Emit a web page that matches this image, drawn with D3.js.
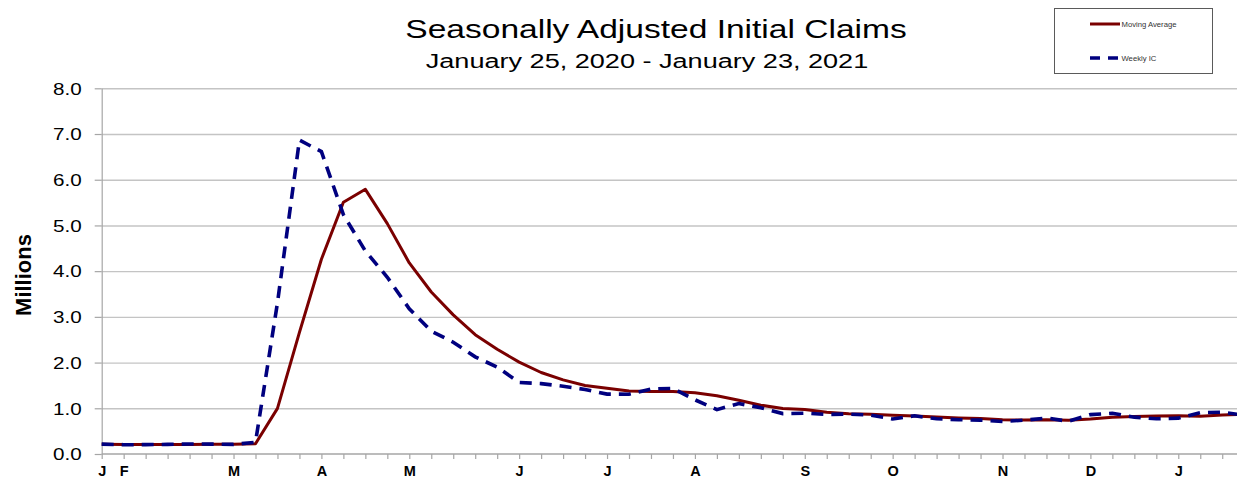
<!DOCTYPE html>
<html>
<head>
<meta charset="utf-8">
<script src="https://cdn.jsdelivr.net/npm/d3@7"></script>
<style>
  body { margin: 0; background: #fff; }
  svg { display: block; font-family: "Liberation Sans", Arial, sans-serif; }
</style>
</head>
<body>
<svg id="chart" width="1237" height="478"></svg>
<script>

// week ending dates, Jan 25 2020 .. Jan 23 2021
var weeks = [
  "2020-01-25","2020-02-01","2020-02-08","2020-02-15","2020-02-22","2020-02-29",
  "2020-03-07","2020-03-14","2020-03-21","2020-03-28","2020-04-04","2020-04-11",
  "2020-04-18","2020-04-25","2020-05-02","2020-05-09","2020-05-16","2020-05-23",
  "2020-05-30","2020-06-06","2020-06-13","2020-06-20","2020-06-27","2020-07-04",
  "2020-07-11","2020-07-18","2020-07-25","2020-08-01","2020-08-08","2020-08-15",
  "2020-08-22","2020-08-29","2020-09-05","2020-09-12","2020-09-19","2020-09-26",
  "2020-10-03","2020-10-10","2020-10-17","2020-10-24","2020-10-31","2020-11-07",
  "2020-11-14","2020-11-21","2020-11-28","2020-12-05","2020-12-12","2020-12-19",
  "2020-12-26","2021-01-02","2021-01-09","2021-01-16","2021-01-23"
]

// millions
var weeklyIC = [
  0.216, 0.203, 0.205, 0.211, 0.219, 0.217,
  0.211, 0.256, 3.307, 6.867, 6.615, 5.237,
  4.442, 3.867, 3.176, 2.687, 2.446, 2.126,
  1.901, 1.566, 1.540, 1.482, 1.413, 1.310,
  1.308, 1.422, 1.435, 1.186, 0.971, 1.104,
  1.011, 0.884, 0.893, 0.866, 0.873, 0.849,
  0.767, 0.835, 0.770, 0.750, 0.740, 0.711,
  0.740, 0.787, 0.716, 0.862, 0.892, 0.806,
  0.770, 0.784, 0.904, 0.914, 0.847
]

var movingAvg = [
  0.212, 0.210, 0.209, 0.209, 0.210, 0.213,
  0.215, 0.226, 0.998, 2.660, 4.261, 5.507,
  5.790, 5.040, 4.180, 3.544, 3.044, 2.609,
  2.290, 2.010, 1.783, 1.622, 1.500, 1.436,
  1.378, 1.368, 1.369, 1.338, 1.274, 1.174,
  1.068, 0.993, 0.973, 0.914, 0.879, 0.870,
  0.848, 0.830, 0.810, 0.790, 0.775, 0.749,
  0.744, 0.751, 0.741, 0.766, 0.802, 0.819,
  0.833, 0.836, 0.827, 0.852, 0.868
]

var yTicks = [0, 1, 2, 3, 4, 5, 6, 7, 8]

// month letters under the first week of each month
var monthLabelDates = ["2020-01-25","2020-02-01","2020-03-07","2020-04-04","2020-05-02",
  "2020-06-06","2020-07-04","2020-08-01","2020-09-05","2020-10-03","2020-11-07",
  "2020-12-05","2021-01-02"]
var monthLabels = ["J","F","M","A","M","J","J","A","S","O","N","D","J"]

var seriesNames = ["Moving Average", "Weekly IC"]


var svg = d3.select('#chart')
var parse = d3.timeParse('%Y-%m-%d')
var dates = weeks.map(parse)

// stretched-look text, the original picture is wider than tall
var SX = 1.29

var plotLeft = 101.7, plotBottom = 454, plotTop = 88.3
var x = d3.scaleTime()
    .domain([dates[0], dates[dates.length - 1]])
    .range([plotLeft, 1244.2])
var y = d3.scaleLinear()
    .domain([0, 8])
    .range([plotBottom, plotTop])

// gridlines
svg.append('g')
    .attr('transform', 'translate(' + plotLeft + ',0)')
    .call(d3.axisLeft(y).tickValues(yTicks.slice(1)).tickSize(-(1237 - plotLeft)).tickFormat(''))
    .call(function(g){
        g.select('.domain').remove()
        g.selectAll('line').attr('stroke', '#c4c4c4').attr('stroke-width', 1.4)
    })

// y axis
svg.append('g')
    .attr('transform', 'translate(' + plotLeft + ',0)')
    .call(d3.axisLeft(y).tickValues(yTicks).tickSize(7).tickSizeOuter(0).tickFormat(d3.format('.1f')))
    .call(function(g){
        g.select('.domain').attr('stroke', '#a6a6a6').attr('stroke-width', 1.2)
        g.selectAll('line').attr('stroke', '#a6a6a6').attr('stroke-width', 1.2)
        g.selectAll('text')
            .attr('x', null).attr('dy', null)
            .attr('transform', 'translate(-20,5.8) scale(' + SX + ',1)')
            .attr('font-size', 16)
            .attr('font-family', '"Liberation Sans", Arial, sans-serif')
            .attr('fill', '#000')
    })

// x axis
var labelMap = {}
monthLabelDates.forEach(function(d, i){ labelMap[d] = monthLabels[i] })
var fmt = d3.timeFormat('%Y-%m-%d')

svg.append('g')
    .attr('transform', 'translate(0,' + plotBottom + ')')
    .call(d3.axisBottom(x).tickValues(dates).tickSize(5).tickSizeOuter(0)
        .tickFormat(function(d){ return labelMap[fmt(d)] || '' }))
    .call(function(g){
        g.select('.domain').attr('stroke', '#a6a6a6').attr('stroke-width', 1.6)
            .attr('d', 'M' + plotLeft + ',0H1237')
        g.selectAll('line').attr('stroke', '#a6a6a6').attr('stroke-width', 1.2)
        g.selectAll('text')
            .attr('y', 22).attr('dy', null)
            .attr('font-size', 14.5)
            .attr('font-weight', 'bold')
            .attr('font-family', '"Liberation Sans", Arial, sans-serif')
            .attr('fill', '#000')
    })

// lines
var line = function(vals){
    return d3.line()
        .x(function(d, i){ return x(dates[i]) })
        .y(function(d){ return y(d) })(vals)
}

svg.append('path')
    .attr('d', line(movingAvg))
    .attr('fill', 'none')
    .attr('stroke', '#7a0000')
    .attr('stroke-width', 3)
    .attr('stroke-linejoin', 'round')

svg.append('path')
    .attr('d', line(weeklyIC))
    .attr('fill', 'none')
    .attr('stroke', '#00007f')
    .attr('stroke-width', 3.6)
    .attr('stroke-dasharray', '12,8')

// titles
function stretchedText(txt, cx, cy, size, weight, anchor){
    return svg.append('text')
        .text(txt)
        .attr('transform', 'translate(' + cx + ',' + cy + ') scale(' + SX + ',1)')
        .attr('text-anchor', anchor || 'middle')
        .attr('font-size', size)
        .attr('font-weight', weight || 'normal')
        .attr('fill', '#000')
}

stretchedText('Seasonally Adjusted Initial Claims', 656, 37.5, 26)
stretchedText('January 25, 2020 - January 23, 2021', 647, 68, 21)

svg.append('text')
    .text('Millions')
    .attr('transform', 'translate(31,275) rotate(-90)')
    .attr('text-anchor', 'middle')
    .attr('font-size', 22)
    .attr('font-weight', 'bold')
    .attr('fill', '#000')

// legend
var lg = svg.append('g')
lg.append('rect')
    .attr('x', 1054.5).attr('y', 8.5)
    .attr('width', 158).attr('height', 65)
    .attr('fill', '#fff')
    .attr('stroke', '#5a5a5a')
    .attr('stroke-width', 1)

var legendRows = [
    {name: seriesNames[0], color: '#7a0000', dash: null, w: 3, yy: 24},
    {name: seriesNames[1], color: '#00007f', dash: '10,8', w: 3.4, yy: 58}
]
legendRows.forEach(function(r){
    lg.append('line')
        .attr('x1', 1090).attr('x2', 1120)
        .attr('y1', r.yy).attr('y2', r.yy)
        .attr('stroke', r.color)
        .attr('stroke-width', r.w)
        .attr('stroke-dasharray', r.dash)
    lg.append('text')
        .text(r.name)
        .attr('transform', 'translate(1121.5,' + (r.yy + 2.5) + ') scale(1.1,1)')
        .attr('font-size', 7)
        .attr('fill', '#333')
})

</script>
</body>
</html>
